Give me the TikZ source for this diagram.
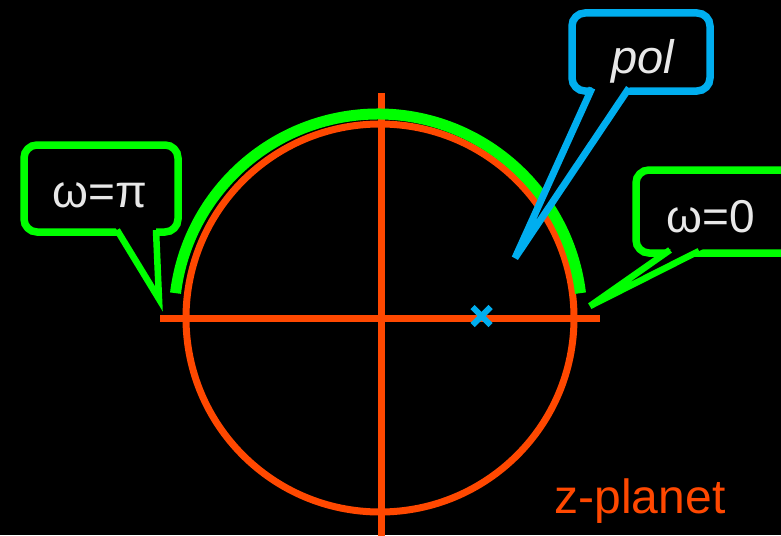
\documentclass[tikz,border=0pt]{standalone}
\usepackage{fontspec}
\setmainfont{Liberation Sans}
\usetikzlibrary{calc}
\definecolor{axorange}{RGB}{255,72,0}
\definecolor{arcgreen}{RGB}{0,255,0}
\definecolor{poleblue}{RGB}{0,174,239}
\definecolor{labelgray}{RGB}{232,232,232}
\tikzset{
  axisline/.style={draw=axorange, line width=7pt},
  boxline/.style={line width=7.5pt, rounded corners=13pt, fill=black},
  tailside/.style={line width=6.5pt, line join=miter},
  label/.style={text=labelgray, font=\fontsize{46}{54}\selectfont, inner sep=0pt, anchor=base},
}
\begin{document}
\begin{tikzpicture}[x=1pt,y=-1pt]
\fill[black] (0,0) rectangle (781,535);
\useasboundingbox (0,0) rectangle (781,535);
% circle and axes
\coordinate (O) at (380,318);
\draw[axisline] (O) circle[radius=194pt];
\coordinate (hl) at (160,318);
\coordinate (hr) at (600,318);
\coordinate (vt) at (381.5,93);
\coordinate (vb) at (381.5,540);
\draw[axisline] (hl) -- (hr);
\draw[axisline] (vt) -- (vb);
% green arc (upper unit circle)
\coordinate (A) at (378,318);
\draw[arcgreen, line width=11pt] ([shift={(7:204pt)}]A) arc[start angle=7, end angle=173, radius=204pt];
% pole
\coordinate (p) at (481.5,316);
\draw[poleblue, line width=6pt] ($(p)+(-9,-9)$) -- ($(p)+(9,9)$);
\draw[poleblue, line width=6pt] ($(p)+(-9,9)$) -- ($(p)+(9,-9)$);
% callout omega = pi
\draw[arcgreen, boxline] (24,145) rectangle (178,232);
\coordinate (t1a) at (117,230);
\coordinate (t1b) at (156,230);
\coordinate (t1tip) at (159,299);
\fill[black] ($(t1tip)!1.15!(t1a)$) -- (t1tip) -- ($(t1tip)!1.15!(t1b)$) -- cycle;
\draw[arcgreen, tailside] (t1a) -- (t1tip) -- (t1b);
\node[label] (wpi) at (100,207) {ω=π};
% callout omega = 0
\draw[arcgreen, boxline] (636,170) rectangle (795,253);
\coordinate (t2a) at (670,250);
\coordinate (t2b) at (699,251);
\coordinate (t2tip) at (590,306);
\fill[black] ($(t2tip)!1.12!(t2a)$) -- (t2tip) -- ($(t2tip)!1.12!(t2b)$) -- cycle;
\draw[arcgreen, tailside] (t2a) -- (t2tip) -- (t2b);
\node[label] (w0) at (711,232) {ω=0};
% callout pol
\draw[poleblue, boxline] (572,13) rectangle (710,91);
\coordinate (t3a) at (592,88);
\coordinate (t3b) at (629,88);
\coordinate (t3tip) at (515,258);
\fill[black] ($(t3tip)!1.05!(t3a)$) -- (t3tip) -- ($(t3tip)!1.05!(t3b)$) -- cycle;
\draw[poleblue, tailside, line width=7pt] (t3a) -- (t3tip) -- (t3b);
\node[label, font=\fontsize{47}{54}\selectfont\itshape] (pol) at (643,74) {pol};
% plane label
\node[text=axorange, font=\fontsize{48}{56}\selectfont, inner sep=0pt, anchor=base] (zp) at (640,513) {z-planet};
\end{tikzpicture}
\end{document}
